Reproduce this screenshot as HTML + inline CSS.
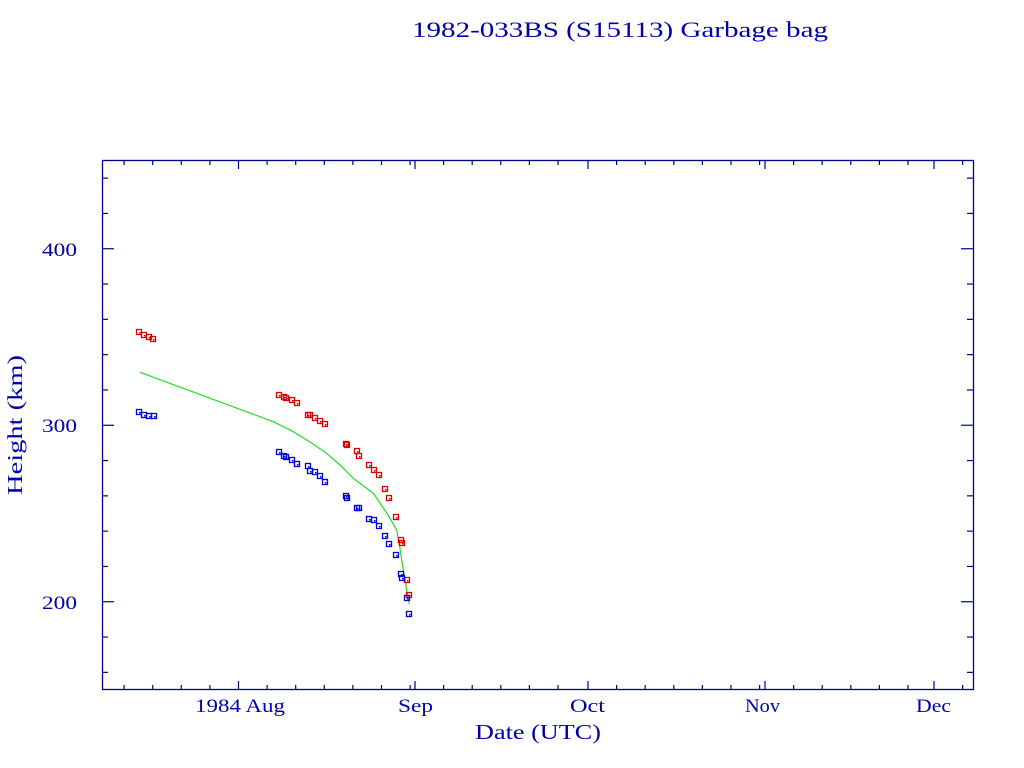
<!DOCTYPE html>
<html><head><meta charset="utf-8"><style>html,body{margin:0;padding:0;background:#fff}svg{display:block}</style></head>
<body>
<svg id="s" width="1024" height="768" xmlns="http://www.w3.org/2000/svg" font-family="Liberation Serif, serif" fill="#0000aa">
<rect x="102.5" y="160.5" width="871" height="529" fill="none" stroke="#00008b" stroke-width="1.3"/>
<text x="412" y="37" font-size="22" textLength="416" lengthAdjust="spacingAndGlyphs">1982-033BS (S15113) Garbage bag</text>
<text x="42" y="256" font-size="19" textLength="35" lengthAdjust="spacingAndGlyphs">400</text>
<text x="42" y="432" font-size="19" textLength="35" lengthAdjust="spacingAndGlyphs">300</text>
<text x="42" y="609" font-size="19" textLength="35" lengthAdjust="spacingAndGlyphs">200</text>
<text x="195" y="712" font-size="19" textLength="90" lengthAdjust="spacingAndGlyphs">1984 Aug</text>
<text x="398" y="712" font-size="19" textLength="35" lengthAdjust="spacingAndGlyphs">Sep</text>
<text x="570" y="712" font-size="19" textLength="35" lengthAdjust="spacingAndGlyphs">Oct</text>
<text x="745" y="712" font-size="19" textLength="35" lengthAdjust="spacingAndGlyphs">Nov</text>
<text x="916" y="712" font-size="19" textLength="35" lengthAdjust="spacingAndGlyphs">Dec</text>
<text x="475" y="739" font-size="21" textLength="126" lengthAdjust="spacingAndGlyphs">Date (UTC)</text>
<text transform="translate(22,495) rotate(-90)" font-size="21" textLength="140" lengthAdjust="spacingAndGlyphs">Height (km)</text>
<g id="ticks" stroke="#00008b" stroke-width="1.2"></g>
<polyline fill="none" stroke="#22dd22" stroke-width="1.2" points="140,372.3 273.3,421.7 293.3,431.7 310,442 326.7,453.3 340,465 353.3,478.3 365,487 373.3,493.3 378,500 388,515 396.7,530 399.5,545 401.7,560 404.5,577 406.7,590 409.3,604"/>
<g id="pts" fill="none" stroke-width="1.3"></g>
</svg>
<script>
var t=document.getElementById('ticks'),h='';
function L(a,b,c,d){h+='<line x1="'+a+'" y1="'+b+'" x2="'+c+'" y2="'+d+'"/>';}
for(var v=160;v<=440;v+=20){var y=690-(v-150)*1.765;var len=(v%100==0)?12:6;L(102,y,102+len,y);L(973,y,973-len,y);}
var months=[[238.5,31],[415,30],[588,31],[765,30],[934,31]];
for(var d=-20;d<0;d+=5){var x=238.5+d*5.72;if(x>102){L(x,690,x,685);L(x,160,x,165);}}
months.forEach(function(m){var x0=m[0],pd=5.72;L(x0,690,x0,681);L(x0,160,x0,169);
 for(var d=5;d<m[1];d+=5){var x=x0+d*pd;if(x<973){L(x,690,x,685);L(x,160,x,165);}}});
t.innerHTML=h;
var red=[[139,332],[144,335],[149,337],[153,339],[279,395],[284,397],[286,398],[292,400],[297,403],[308,415],[310,415],[315,418],[320,421],[325,424],[346,444],[347,445],[357,451],[359,456],[369,465],[374,470],[379,475],[385,489],[389,498],[396,517],[401,540],[402,543],[407,580],[409,595]];
var blue=[[139,412],[144,415],[149,416],[154,416],[279,452],[284,456],[286,457],[292,460],[297,464],[308,466],[310,471],[315,472],[320,476],[325,482],[346,496],[347,498],[357,508],[359,508],[369,519],[374,520],[379,526],[385,536],[389,544],[396,555],[401,574],[402,578],[407,598],[409,614]];
var p='';
function P(a,c){a.forEach(function(q){p+='<rect x="'+(q[0]-2.5)+'" y="'+(q[1]-2.5)+'" width="5" height="5" stroke="'+c+'"/><rect x="'+(q[0])+'" y="'+(q[1])+'" width="1.5" height="1.5" fill="'+c+'"/>';});}
P(red,'#dd0000');P(blue,'#0000dd');
document.getElementById('pts').innerHTML=p;
</script>
</body></html>
